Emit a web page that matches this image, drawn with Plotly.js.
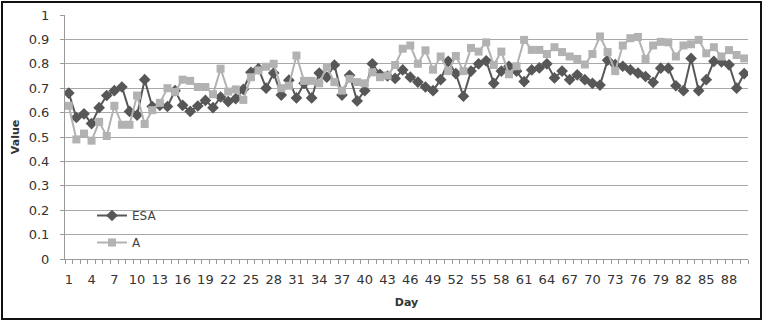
<!DOCTYPE html>
<html>
<head>
<meta charset="utf-8">
<script src="https://cdn.plot.ly/plotly-3.0.1.min.js"></script>
<style>
  html, body { margin: 0; padding: 0; background: #fff; }
  #chart { width: 767px; height: 324px; }
</style>
</head>
<body>
<div id="chart"></div>
<script>
const days = [1,2,3,4,5,6,7,8,9,10,11,12,13,14,15,16,17,18,19,20,21,22,23,24,25,26,27,28,29,30,
  31,32,33,34,35,36,37,38,39,40,41,42,43,44,45,46,47,48,49,50,51,52,53,54,55,56,57,58,59,60,
  61,62,63,64,65,66,67,68,69,70,71,72,73,74,75,76,77,78,79,80,81,82,83,84,85,86,87,88,89,90];

const esa = [0.68,0.58,0.595,0.555,0.62,0.67,0.69,0.705,0.605,0.59,
  0.735,0.625,0.63,0.625,0.69,0.63,0.605,0.627,0.65,0.62,
  0.664,0.645,0.657,0.695,0.765,0.78,0.70,0.762,0.672,0.733,
  0.66,0.72,0.66,0.762,0.745,0.795,0.672,0.753,0.648,0.69,
  0.80,0.757,0.75,0.74,0.775,0.745,0.725,0.705,0.69,0.735,
  0.81,0.76,0.667,0.77,0.80,0.812,0.72,0.77,0.79,0.77,
  0.727,0.775,0.783,0.80,0.742,0.77,0.735,0.755,0.735,0.72,
  0.713,0.815,0.797,0.79,0.775,0.762,0.748,0.724,0.782,0.782,
  0.71,0.69,0.822,0.69,0.735,0.81,0.808,0.796,0.70,0.76];

const seriesA = [0.628,0.49,0.514,0.485,0.562,0.504,0.628,0.55,0.55,0.67,
  0.553,0.61,0.64,0.70,0.685,0.735,0.73,0.705,0.705,0.675,
  0.78,0.686,0.695,0.652,0.745,0.773,0.788,0.80,0.70,0.71,
  0.834,0.73,0.73,0.72,0.787,0.725,0.69,0.738,0.725,0.72,
  0.765,0.745,0.752,0.795,0.862,0.875,0.80,0.855,0.776,0.83,
  0.77,0.832,0.77,0.865,0.85,0.888,0.795,0.85,0.757,0.79,
  0.898,0.857,0.857,0.84,0.868,0.848,0.83,0.82,0.797,0.84,
  0.912,0.848,0.77,0.875,0.905,0.91,0.82,0.875,0.89,0.888,
  0.83,0.875,0.88,0.898,0.843,0.868,0.83,0.856,0.836,0.822];

const xTickVals = [1,4,7,10,13,16,19,22,25,28,31,34,37,40,43,46,49,52,55,58,61,64,67,70,73,76,79,82,85,88];
const xTickText = ["1","4","7","10","13","16","19","22","25","28","31","34","37","40","43","46","49","52","55","58","61","64","67","70","73","76","79","82","85","88"];
const yTickVals = [0,0.1,0.2,0.3,0.4,0.5,0.6,0.7,0.8,0.9,1];
const yTickText = ["0","0.1","0.2","0.3","0.4","0.5","0.6","0.7","0.8","0.9","1"];

const FONT = "DejaVu Sans, Verdana, sans-serif";

const traces = [
  {
    x: days, y: esa, name: "ESA", type: "scatter", mode: "lines+markers",
    legendgroup: "g1",
    line: {color: "#575757", width: 2},
    marker: {symbol: "diamond", size: 9, color: "#575757"}
  },
  {
    x: days, y: seriesA, name: "A", type: "scatter", mode: "lines+markers",
    legendgroup: "g2",
    line: {color: "#b2b2b2", width: 2},
    marker: {symbol: "square", size: 8, color: "#b2b2b2"}
  }
];

const L = 65, R = 19, T = 15, B = 65, W = 767, H = 324;
const pw = W - L - R, ph = H - T - B;
function px(xp) { return (xp - L) / pw; }
function py(yp) { return (H - B - yp) / ph; }

const layout = {
  width: W, height: H,
  margin: {l: L, r: R, t: T, b: B, pad: 0},
  paper_bgcolor: "#ffffff",
  plot_bgcolor: "#ffffff",
  font: {family: FONT, size: 12, color: "#333333"},
  showlegend: true,
  legend: {
    x: px(92), y: py(201), xanchor: "left", yanchor: "top",
    bgcolor: "rgba(0,0,0,0)", borderwidth: 0,
    font: {family: FONT, size: 12, color: "#444444"},
    tracegroupgap: 8, itemwidth: 30
  },
  xaxis: {
    range: [0.5, 90.5],
    tickmode: "array", tickvals: xTickVals, ticktext: xTickText,
    ticks: "", showgrid: false, zeroline: false,
    showline: true, linecolor: "#9a9a9a", linewidth: 1,
    ticklabelstandoff: 8,
    tickfont: {family: FONT, size: 13, color: "#333333"},
    minor: {ticks: "outside", tick0: 0.5, dtick: 1, ticklen: 4, tickcolor: "#9a9a9a", tickwidth: 1, showgrid: false},
    title: {text: "<b>Day</b>", font: {family: FONT, size: 11, color: "#333333"}, standoff: 12}
  },
  yaxis: {
    range: [0, 1],
    tickmode: "array", tickvals: yTickVals, ticktext: yTickText,
    ticks: "outside", ticklen: 4, tickcolor: "#9a9a9a",
    showgrid: true, gridcolor: "#a8a8a8", gridwidth: 1,
    zeroline: false, showline: true, linecolor: "#9a9a9a", linewidth: 1,
    ticklabelstandoff: 8,
    tickfont: {family: FONT, size: 13, color: "#333333"},
    title: {text: "<b>Value</b>", font: {family: FONT, size: 11, color: "#333333"}, standoff: 6}
  },
  shapes: [
    {type: "rect", xref: "paper", yref: "paper",
     x0: px(2), x1: px(761), y0: py(2), y1: py(319),
     line: {color: "#111111", width: 2}, fillcolor: "rgba(0,0,0,0)", layer: "above"}
  ]
};

Plotly.newPlot("chart", traces, layout, {displayModeBar: false, staticPlot: true});
</script>
</body>
</html>
